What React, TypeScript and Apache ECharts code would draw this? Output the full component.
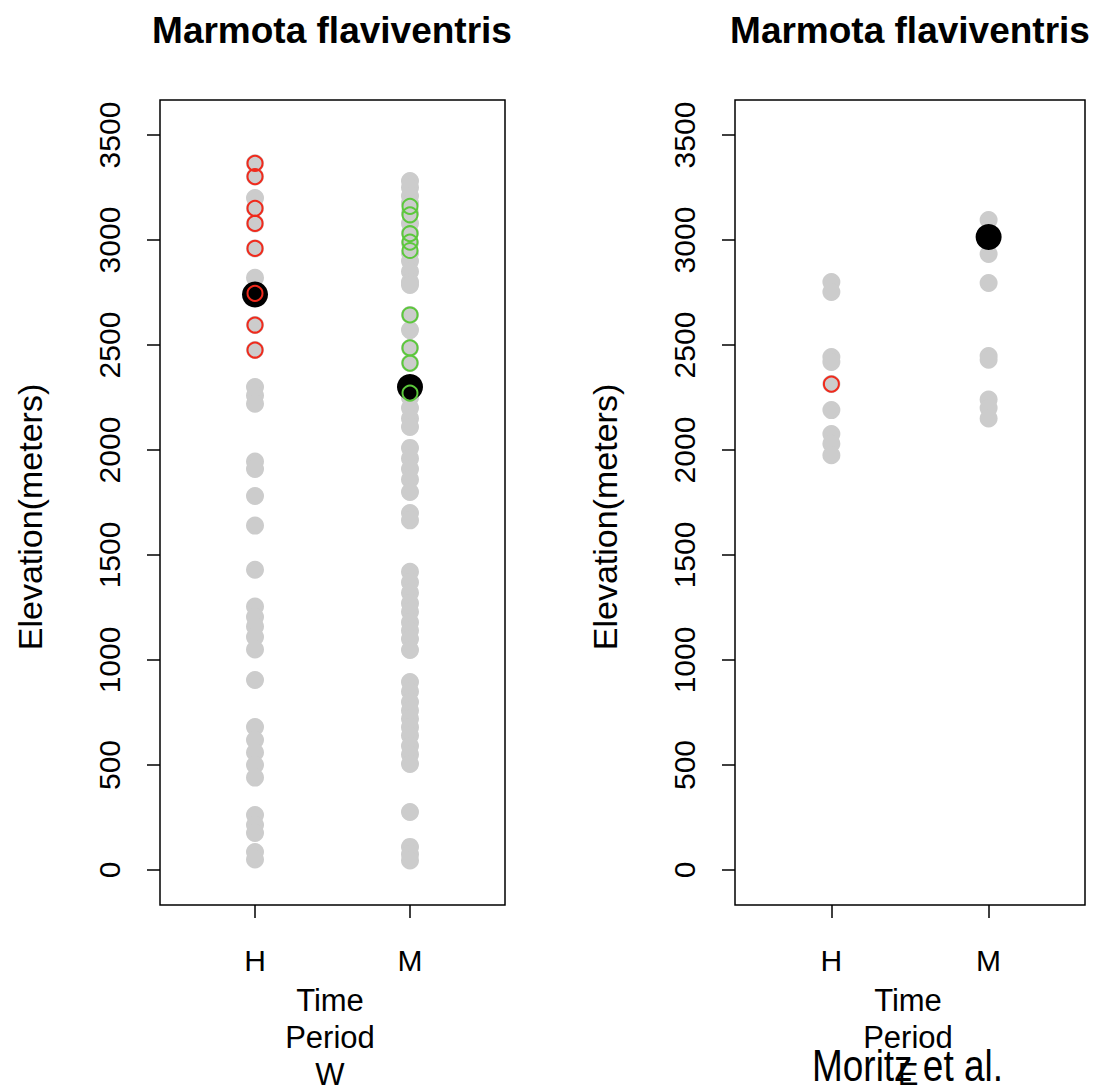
import React, { useEffect, useRef } from 'react';
import * as echarts from 'echarts';

const CATS = ['H', 'M'];
const Y_TICKS = [0, 500, 1000, 1500, 2000, 2500, 3000, 3500];

// Left panel (W)
const W_H_GRAY = [3365, 3302, 3200, 3151, 3079, 2960, 2820, 2746, 2595, 2476, 2300, 2260, 2220, 1945, 1910, 1781, 1640, 1430, 1255, 1205, 1160, 1110, 1050, 905, 681, 619, 560, 500, 440, 262, 214, 176, 86, 50];
const W_H_RED = [3365, 3302, 3151, 3079, 2960, 2746, 2595, 2476];
const W_H_MEAN = [2740];
const W_M_GRAY = [3281, 3250, 3210, 3176, 3130, 3080, 3033, 2986, 2938, 2900, 2850, 2800, 2786, 2643, 2571, 2486, 2414, 2300, 2271, 2250, 2200, 2150, 2110, 2010, 1960, 1910, 1860, 1800, 1700, 1665, 1420, 1370, 1320, 1270, 1230, 1180, 1140, 1100, 1048, 895, 850, 800, 760, 720, 680, 640, 590, 550, 505, 276, 110, 75, 45];
const W_M_GREEN = [3160, 3120, 3030, 2990, 2950, 2643, 2486, 2414, 2271];
const W_M_MEAN = [2300];

// Right panel (E)
const E_H_GRAY = [2800, 2752, 2443, 2419, 2314, 2190, 2076, 2030, 1975];
const E_H_RED = [2314];
const E_M_GRAY = [3095, 2933, 2795, 2448, 2430, 2240, 2200, 2150];
const E_M_MEAN = [3014];

const TITLE = 'Marmota flaviventris';
const Y_NAME = 'Elevation(meters)';
const X_NAME_LINES = ['Time', 'Period'];
const PANEL_TAGS = ['W', 'E'];
const CREDIT = 'Moritz et al.';

const GRAY = '#cccccc';
const RED = '#f02a1c';
const GREEN = '#5cc83c';
const FONT = "'Liberation Sans', Arial, Helvetica, sans-serif";

const pts = (ci: number, arr: number[]) => arr.map((v) => [ci + 1, v]);

export default function App() {
  const ref = useRef<HTMLDivElement>(null);
  useEffect(() => {
    if (!ref.current) return;
    const chart = echarts.init(ref.current, undefined, { renderer: 'svg' });

    const grids = [
      { left: 160, width: 345, top: 100, height: 805 },
      { left: 735, width: 350, top: 100, height: 805 },
    ];
    const xAxis = grids.map((_, i) => ({
      type: 'value',
      gridIndex: i,
      min: 0.387,
      max: 2.613,
      position: 'bottom',
      axisLine: { show: false, onZero: false },
      splitLine: { show: false },
      axisTick: { customValues: [1, 2], length: 13, lineStyle: { color: '#000', width: 1.5 } },
      axisLabel: {
        customValues: [1, 2],
        formatter: (v: number) => CATS[Math.round(v) - 1],
        fontSize: 30,
        color: '#000',
        fontFamily: FONT,
        margin: 40,
      },
    }));
    const yAxis = grids.map((_, i) => ({
      type: 'value',
      gridIndex: i,
      min: -166.67,
      max: 3666.67,
      axisLine: { show: false, onZero: false },
      splitLine: { show: false },
      axisTick: { customValues: Y_TICKS, length: 13, lineStyle: { color: '#000', width: 1.5 } },
      axisLabel: {
        customValues: Y_TICKS,
        formatter: (v: number) => String(Math.round(v)),
        rotate: 90,
        fontSize: 30,
        color: '#000',
        fontFamily: FONT,
        margin: 36,
      },
    }));

    const grayStyle = { color: GRAY, opacity: 1 };
    const blackStyle = { color: '#000', opacity: 1 };
    const openStyle = (c: string) => ({ color: 'rgba(0,0,0,0)', borderColor: c, borderWidth: 2, opacity: 1 });
    const base = { type: 'scatter', silent: true, emphasis: { disabled: true } };

    const series: any[] = [
      { ...base, xAxisIndex: 0, yAxisIndex: 0, symbolSize: 18, itemStyle: grayStyle, data: [...pts(0, W_H_GRAY), ...pts(1, W_M_GRAY)] },
      { ...base, xAxisIndex: 0, yAxisIndex: 0, symbolSize: 26, itemStyle: blackStyle, data: [...pts(0, W_H_MEAN), ...pts(1, W_M_MEAN)] },
      { ...base, xAxisIndex: 0, yAxisIndex: 0, symbolSize: 15, itemStyle: openStyle(RED), data: pts(0, W_H_RED) },
      { ...base, xAxisIndex: 0, yAxisIndex: 0, symbolSize: 15, itemStyle: openStyle(GREEN), data: pts(1, W_M_GREEN) },
      { ...base, xAxisIndex: 1, yAxisIndex: 1, symbolSize: 18, itemStyle: grayStyle, data: [...pts(0, E_H_GRAY), ...pts(1, E_M_GRAY)] },
      { ...base, xAxisIndex: 1, yAxisIndex: 1, symbolSize: 26, itemStyle: blackStyle, data: pts(1, E_M_MEAN) },
      { ...base, xAxisIndex: 1, yAxisIndex: 1, symbolSize: 15, itemStyle: openStyle(RED), data: pts(0, E_H_RED) },
    ];

    const centers = [332, 910];
    const yNameX = [30, 605];
    const graphic: any[] = [];
    centers.forEach((cx, i) => {
      graphic.push({
        type: 'text',
        style: { x: cx, y: 30, text: TITLE, font: `bold 37px ${FONT}`, fill: '#000', textAlign: 'center', textVerticalAlign: 'middle' },
      });
      graphic.push({
        type: 'text',
        x: yNameX[i],
        y: 517,
        rotation: Math.PI / 2,
        style: { x: 0, y: 0, text: Y_NAME, font: `34px ${FONT}`, fill: '#000', textAlign: 'center', textVerticalAlign: 'middle' },
      });
      [...X_NAME_LINES, PANEL_TAGS[i]].forEach((t, k) => {
        graphic.push({
          type: 'text',
          style: { x: cx - 2, y: 1000 + k * 37, text: t, font: `31px ${FONT}`, fill: '#000', textAlign: 'center', textVerticalAlign: 'middle' },
        });
      });
    });
    graphic.push({
      type: 'text',
      x: 812,
      y: 1066,
      scaleX: 0.84,
      style: { x: 0, y: 0, text: CREDIT, font: `44px ${FONT}`, fill: '#000', textAlign: 'left', textVerticalAlign: 'middle' },
    });

    chart.setOption({
      animation: false,
      backgroundColor: '#fff',
      grid: grids.map((g) => ({ ...g, show: true, borderColor: '#000', borderWidth: 1.5, backgroundColor: 'transparent' })),
      xAxis,
      yAxis,
      series,
      graphic,
    });
    return () => chart.dispose();
  }, []);
  return <div ref={ref} style={{ width: 1093, height: 1090, position: 'absolute', left: 0, top: 0 }} />;
}
